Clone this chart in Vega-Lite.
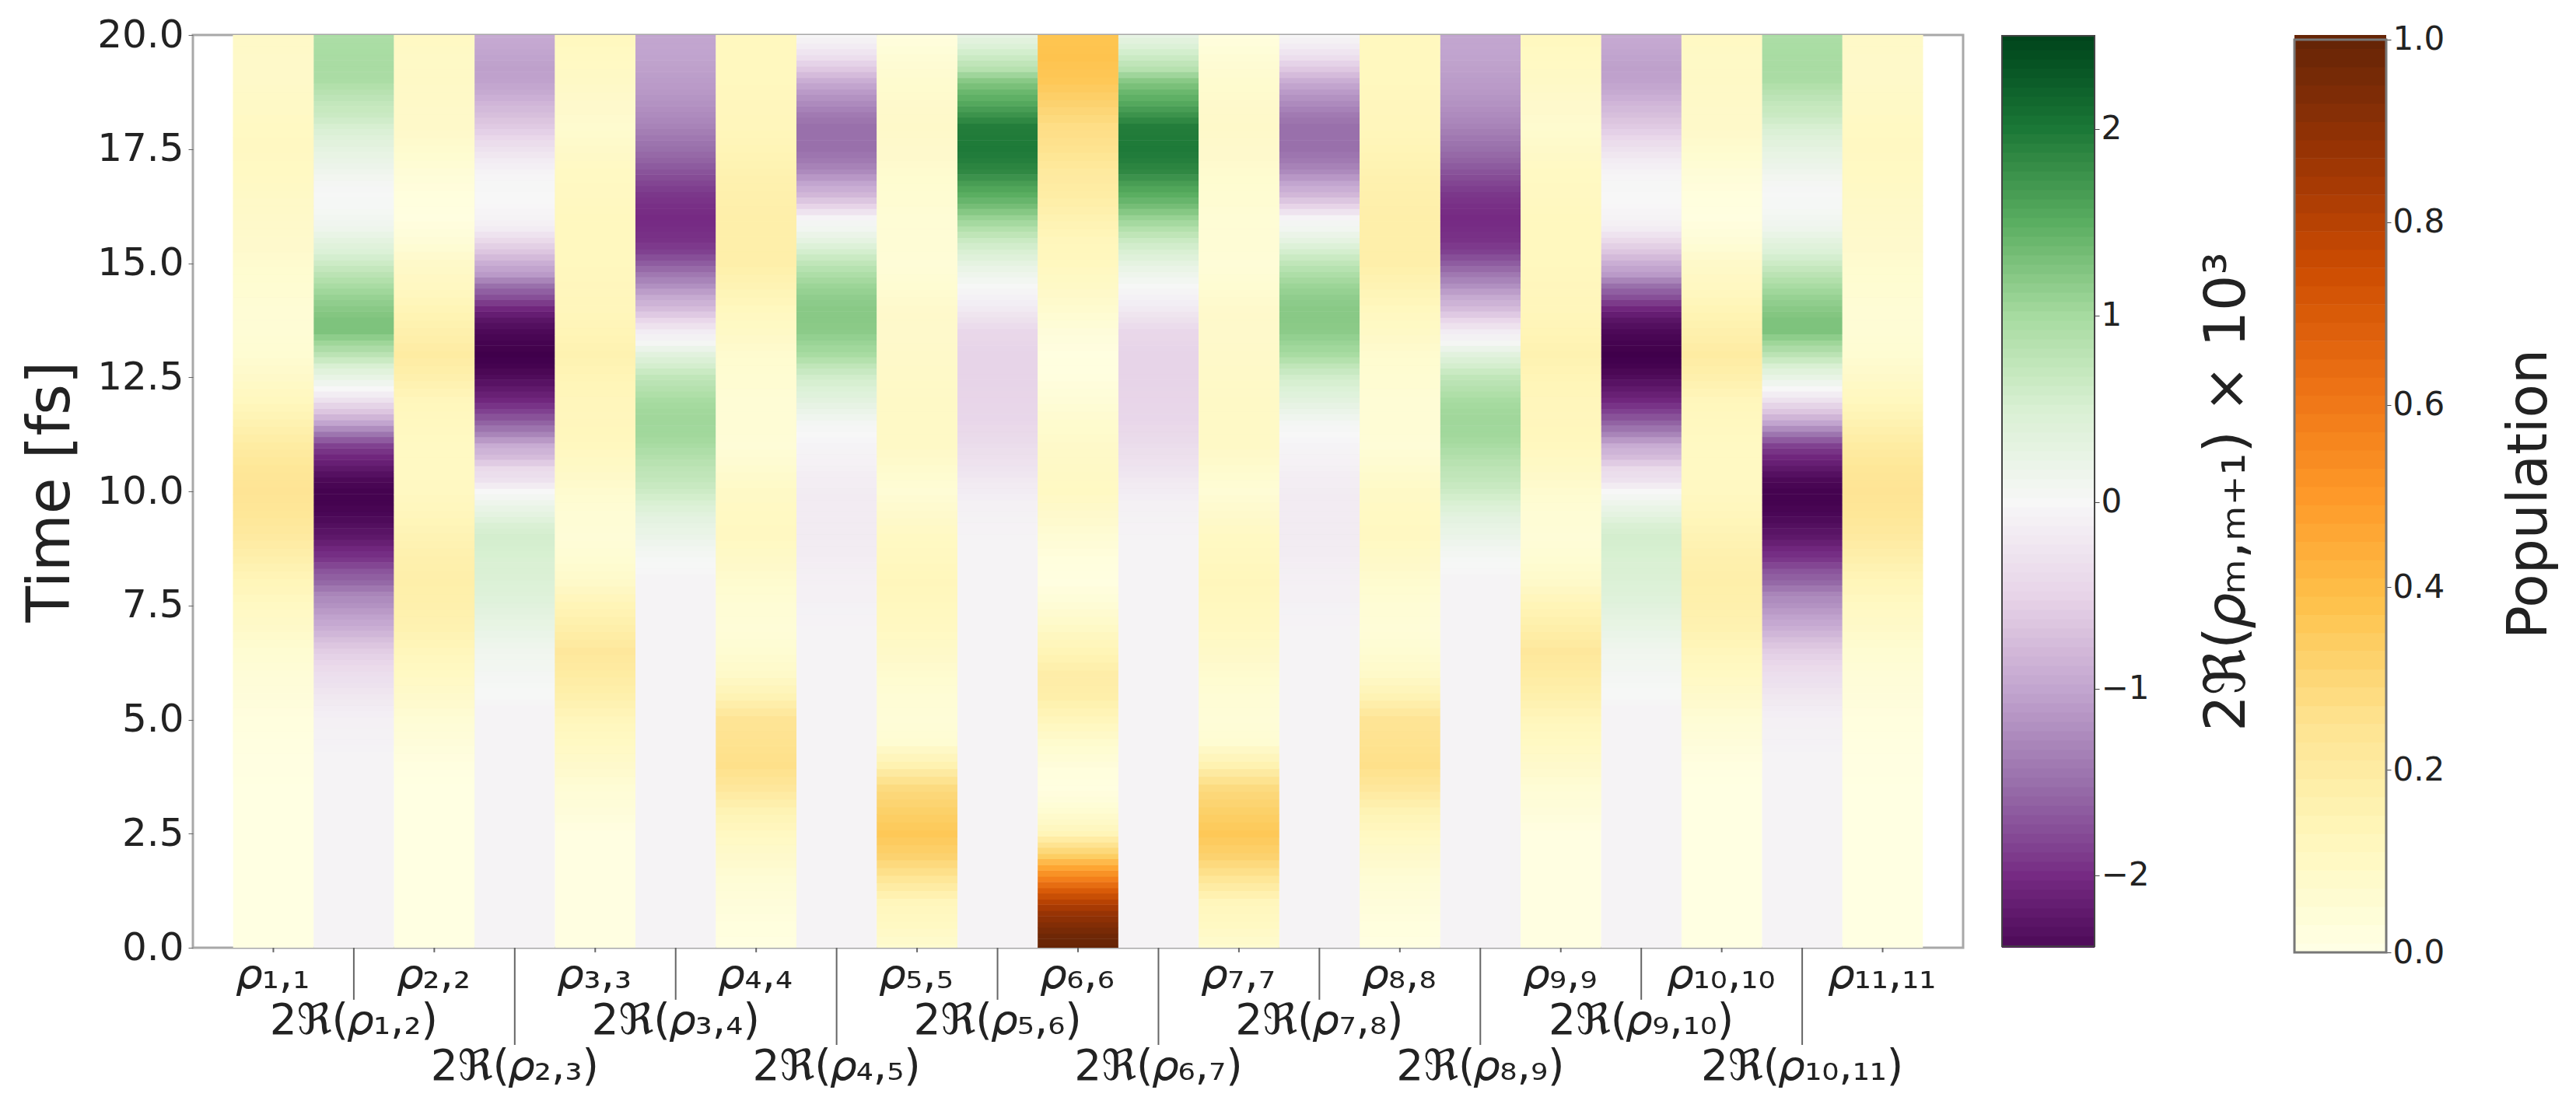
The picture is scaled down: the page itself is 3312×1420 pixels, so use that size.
{"$schema":"https://vega.github.io/schema/vega-lite/v6.json","padding":{"left":26,"top":18,"right":5,"bottom":5},"background":"white","config":{"font":"DejaVu Sans","view":{"stroke":null}},"spacing":47,"resolve":{"scale":{"color":"independent"}},
"datasets":{
"flatp":[{"c":0,"t":0,"u":20,"v":0.01},{"c":2,"t":0,"u":20,"v":0.01},{"c":4,"t":0,"u":20,"v":0.015},{"c":20,"t":0,"u":20,"v":0.01},{"c":18,"t":0,"u":20,"v":0.01},{"c":16,"t":0,"u":20,"v":0.015}],
"flat":[{"c":1,"t":0,"u":20,"v":-0.06},{"c":3,"t":0,"u":20,"v":-0.06},{"c":5,"t":0,"u":20,"v":-0.06},{"c":7,"t":0,"u":20,"v":-0.06},{"c":9,"t":0,"u":20,"v":-0.06},{"c":11,"t":0,"u":20,"v":-0.06},{"c":13,"t":0,"u":20,"v":-0.06},{"c":15,"t":0,"u":20,"v":-0.06},{"c":17,"t":0,"u":20,"v":-0.06},{"c":19,"t":0,"u":20,"v":-0.06}],
"pop":[
{"c":0,"t":4,"v":0.015},{"c":0,"t":4.5,"v":0.02},{"c":0,"t":5,"v":0.025},{"c":0,"t":5.5,"v":0.04},{"c":0,"t":6,"v":0.05},{"c":0,"t":6.5,"v":0.07},{"c":0,"t":7,"v":0.1},{"c":0,"t":7.5,"v":0.125},{"c":0,"t":8,"v":0.155},{"c":0,"t":8.5,"v":0.19},{"c":0,"t":9,"v":0.225},{"c":0,"t":9.5,"v":0.25},{"c":0,"t":10,"v":0.26},{"c":0,"t":10.5,"v":0.25},{"c":0,"t":11,"v":0.22},{"c":0,"t":11.5,"v":0.18},{"c":0,"t":12,"v":0.14},{"c":0,"t":12.5,"v":0.1},{"c":0,"t":13,"v":0.07},{"c":0,"t":13.5,"v":0.06},{"c":0,"t":14,"v":0.06},{"c":0,"t":14.5,"v":0.07},{"c":0,"t":15,"v":0.08},{"c":0,"t":15.5,"v":0.09},{"c":0,"t":16,"v":0.1},{"c":0,"t":16.5,"v":0.11},{"c":0,"t":17,"v":0.12},{"c":0,"t":17.5,"v":0.13},{"c":0,"t":18,"v":0.12},{"c":0,"t":18.5,"v":0.11},{"c":0,"t":19,"v":0.1},{"c":0,"t":19.5,"v":0.1},{"c":0,"t":20,"v":0.11},
{"c":20,"t":4,"v":0.015},{"c":20,"t":4.5,"v":0.02},{"c":20,"t":5,"v":0.025},{"c":20,"t":5.5,"v":0.04},{"c":20,"t":6,"v":0.05},{"c":20,"t":6.5,"v":0.07},{"c":20,"t":7,"v":0.1},{"c":20,"t":7.5,"v":0.125},{"c":20,"t":8,"v":0.155},{"c":20,"t":8.5,"v":0.19},{"c":20,"t":9,"v":0.225},{"c":20,"t":9.5,"v":0.25},{"c":20,"t":10,"v":0.26},{"c":20,"t":10.5,"v":0.25},{"c":20,"t":11,"v":0.22},{"c":20,"t":11.5,"v":0.18},{"c":20,"t":12,"v":0.14},{"c":20,"t":12.5,"v":0.1},{"c":20,"t":13,"v":0.07},{"c":20,"t":13.5,"v":0.06},{"c":20,"t":14,"v":0.06},{"c":20,"t":14.5,"v":0.07},{"c":20,"t":15,"v":0.08},{"c":20,"t":15.5,"v":0.09},{"c":20,"t":16,"v":0.1},{"c":20,"t":16.5,"v":0.11},{"c":20,"t":17,"v":0.12},{"c":20,"t":17.5,"v":0.13},{"c":20,"t":18,"v":0.12},{"c":20,"t":18.5,"v":0.11},{"c":20,"t":19,"v":0.1},{"c":20,"t":19.5,"v":0.1},{"c":20,"t":20,"v":0.11},
{"c":2,"t":4,"v":0.02},{"c":2,"t":4.5,"v":0.04},{"c":2,"t":5,"v":0.06},{"c":2,"t":5.5,"v":0.09},{"c":2,"t":6,"v":0.12},{"c":2,"t":6.5,"v":0.15},{"c":2,"t":7,"v":0.18},{"c":2,"t":7.5,"v":0.19},{"c":2,"t":8,"v":0.2},{"c":2,"t":8.5,"v":0.19},{"c":2,"t":9,"v":0.17},{"c":2,"t":9.5,"v":0.15},{"c":2,"t":10,"v":0.13},{"c":2,"t":10.5,"v":0.125},{"c":2,"t":11,"v":0.12},{"c":2,"t":11.5,"v":0.135},{"c":2,"t":12,"v":0.15},{"c":2,"t":12.5,"v":0.19},{"c":2,"t":13,"v":0.22},{"c":2,"t":13.5,"v":0.19},{"c":2,"t":14,"v":0.16},{"c":2,"t":14.5,"v":0.13},{"c":2,"t":15,"v":0.1},{"c":2,"t":15.5,"v":0.05},{"c":2,"t":16,"v":0.02},{"c":2,"t":16.5,"v":0.03},{"c":2,"t":17,"v":0.05},{"c":2,"t":17.5,"v":0.08},{"c":2,"t":18,"v":0.1},{"c":2,"t":18.5,"v":0.105},{"c":2,"t":19,"v":0.11},{"c":2,"t":19.5,"v":0.115},{"c":2,"t":20,"v":0.12},
{"c":18,"t":4,"v":0.02},{"c":18,"t":4.5,"v":0.04},{"c":18,"t":5,"v":0.06},{"c":18,"t":5.5,"v":0.09},{"c":18,"t":6,"v":0.12},{"c":18,"t":6.5,"v":0.15},{"c":18,"t":7,"v":0.18},{"c":18,"t":7.5,"v":0.19},{"c":18,"t":8,"v":0.2},{"c":18,"t":8.5,"v":0.19},{"c":18,"t":9,"v":0.17},{"c":18,"t":9.5,"v":0.15},{"c":18,"t":10,"v":0.13},{"c":18,"t":10.5,"v":0.125},{"c":18,"t":11,"v":0.12},{"c":18,"t":11.5,"v":0.135},{"c":18,"t":12,"v":0.15},{"c":18,"t":12.5,"v":0.19},{"c":18,"t":13,"v":0.22},{"c":18,"t":13.5,"v":0.19},{"c":18,"t":14,"v":0.16},{"c":18,"t":14.5,"v":0.13},{"c":18,"t":15,"v":0.1},{"c":18,"t":15.5,"v":0.05},{"c":18,"t":16,"v":0.02},{"c":18,"t":16.5,"v":0.03},{"c":18,"t":17,"v":0.05},{"c":18,"t":17.5,"v":0.08},{"c":18,"t":18,"v":0.1},{"c":18,"t":18.5,"v":0.105},{"c":18,"t":19,"v":0.11},{"c":18,"t":19.5,"v":0.115},{"c":18,"t":20,"v":0.12},
{"c":4,"t":3,"v":0.04},{"c":4,"t":3.5,"v":0.06},{"c":4,"t":4,"v":0.09},{"c":4,"t":4.5,"v":0.12},{"c":4,"t":5,"v":0.15},{"c":4,"t":5.5,"v":0.19},{"c":4,"t":6,"v":0.22},{"c":4,"t":6.5,"v":0.24},{"c":4,"t":7,"v":0.2},{"c":4,"t":7.5,"v":0.16},{"c":4,"t":8,"v":0.1},{"c":4,"t":8.5,"v":0.07},{"c":4,"t":9,"v":0.05},{"c":4,"t":9.5,"v":0.06},{"c":4,"t":10,"v":0.08},{"c":4,"t":10.5,"v":0.11},{"c":4,"t":11,"v":0.14},{"c":4,"t":11.5,"v":0.145},{"c":4,"t":12,"v":0.15},{"c":4,"t":12.5,"v":0.165},{"c":4,"t":13,"v":0.18},{"c":4,"t":13.5,"v":0.165},{"c":4,"t":14,"v":0.15},{"c":4,"t":14.5,"v":0.145},{"c":4,"t":15,"v":0.14},{"c":4,"t":15.5,"v":0.14},{"c":4,"t":16,"v":0.14},{"c":4,"t":16.5,"v":0.13},{"c":4,"t":17,"v":0.12},{"c":4,"t":17.5,"v":0.1},{"c":4,"t":18,"v":0.08},{"c":4,"t":18.5,"v":0.09},{"c":4,"t":19,"v":0.11},{"c":4,"t":19.5,"v":0.125},{"c":4,"t":20,"v":0.14},
{"c":16,"t":3,"v":0.04},{"c":16,"t":3.5,"v":0.06},{"c":16,"t":4,"v":0.09},{"c":16,"t":4.5,"v":0.12},{"c":16,"t":5,"v":0.15},{"c":16,"t":5.5,"v":0.19},{"c":16,"t":6,"v":0.22},{"c":16,"t":6.5,"v":0.24},{"c":16,"t":7,"v":0.2},{"c":16,"t":7.5,"v":0.16},{"c":16,"t":8,"v":0.1},{"c":16,"t":8.5,"v":0.07},{"c":16,"t":9,"v":0.05},{"c":16,"t":9.5,"v":0.06},{"c":16,"t":10,"v":0.08},{"c":16,"t":10.5,"v":0.11},{"c":16,"t":11,"v":0.14},{"c":16,"t":11.5,"v":0.145},{"c":16,"t":12,"v":0.15},{"c":16,"t":12.5,"v":0.165},{"c":16,"t":13,"v":0.18},{"c":16,"t":13.5,"v":0.165},{"c":16,"t":14,"v":0.15},{"c":16,"t":14.5,"v":0.145},{"c":16,"t":15,"v":0.14},{"c":16,"t":15.5,"v":0.14},{"c":16,"t":16,"v":0.14},{"c":16,"t":16.5,"v":0.13},{"c":16,"t":17,"v":0.12},{"c":16,"t":17.5,"v":0.1},{"c":16,"t":18,"v":0.08},{"c":16,"t":18.5,"v":0.09},{"c":16,"t":19,"v":0.11},{"c":16,"t":19.5,"v":0.125},{"c":16,"t":20,"v":0.14},
{"c":6,"t":0,"v":0.015},{"c":6,"t":0.5,"v":0.025},{"c":6,"t":1,"v":0.04},{"c":6,"t":1.5,"v":0.06},{"c":6,"t":2,"v":0.09},{"c":6,"t":2.5,"v":0.13},{"c":6,"t":3,"v":0.17},{"c":6,"t":3.5,"v":0.24},{"c":6,"t":4,"v":0.28},{"c":6,"t":4.5,"v":0.27},{"c":6,"t":5,"v":0.26},{"c":6,"t":5.5,"v":0.17},{"c":6,"t":6,"v":0.1},{"c":6,"t":6.5,"v":0.07},{"c":6,"t":7,"v":0.05},{"c":6,"t":7.5,"v":0.06},{"c":6,"t":8,"v":0.08},{"c":6,"t":8.5,"v":0.105},{"c":6,"t":9,"v":0.13},{"c":6,"t":9.5,"v":0.12},{"c":6,"t":10,"v":0.11},{"c":6,"t":10.5,"v":0.08},{"c":6,"t":11,"v":0.05},{"c":6,"t":11.5,"v":0.055},{"c":6,"t":12,"v":0.06},{"c":6,"t":12.5,"v":0.07},{"c":6,"t":13,"v":0.08},{"c":6,"t":13.5,"v":0.11},{"c":6,"t":14,"v":0.14},{"c":6,"t":14.5,"v":0.17},{"c":6,"t":15,"v":0.2},{"c":6,"t":15.5,"v":0.2},{"c":6,"t":16,"v":0.2},{"c":6,"t":16.5,"v":0.19},{"c":6,"t":17,"v":0.18},{"c":6,"t":17.5,"v":0.165},{"c":6,"t":18,"v":0.15},{"c":6,"t":18.5,"v":0.145},{"c":6,"t":19,"v":0.14},{"c":6,"t":19.5,"v":0.14},{"c":6,"t":20,"v":0.14},
{"c":14,"t":0,"v":0.015},{"c":14,"t":0.5,"v":0.025},{"c":14,"t":1,"v":0.04},{"c":14,"t":1.5,"v":0.06},{"c":14,"t":2,"v":0.09},{"c":14,"t":2.5,"v":0.13},{"c":14,"t":3,"v":0.17},{"c":14,"t":3.5,"v":0.24},{"c":14,"t":4,"v":0.28},{"c":14,"t":4.5,"v":0.27},{"c":14,"t":5,"v":0.26},{"c":14,"t":5.5,"v":0.17},{"c":14,"t":6,"v":0.1},{"c":14,"t":6.5,"v":0.07},{"c":14,"t":7,"v":0.05},{"c":14,"t":7.5,"v":0.06},{"c":14,"t":8,"v":0.08},{"c":14,"t":8.5,"v":0.105},{"c":14,"t":9,"v":0.13},{"c":14,"t":9.5,"v":0.12},{"c":14,"t":10,"v":0.11},{"c":14,"t":10.5,"v":0.08},{"c":14,"t":11,"v":0.05},{"c":14,"t":11.5,"v":0.055},{"c":14,"t":12,"v":0.06},{"c":14,"t":12.5,"v":0.07},{"c":14,"t":13,"v":0.08},{"c":14,"t":13.5,"v":0.11},{"c":14,"t":14,"v":0.14},{"c":14,"t":14.5,"v":0.17},{"c":14,"t":15,"v":0.2},{"c":14,"t":15.5,"v":0.2},{"c":14,"t":16,"v":0.2},{"c":14,"t":16.5,"v":0.19},{"c":14,"t":17,"v":0.18},{"c":14,"t":17.5,"v":0.165},{"c":14,"t":18,"v":0.15},{"c":14,"t":18.5,"v":0.145},{"c":14,"t":19,"v":0.14},{"c":14,"t":19.5,"v":0.14},{"c":14,"t":20,"v":0.14},
{"c":8,"t":0,"v":0.08},{"c":8,"t":0.5,"v":0.12},{"c":8,"t":1,"v":0.15},{"c":8,"t":1.5,"v":0.25},{"c":8,"t":2,"v":0.33},{"c":8,"t":2.5,"v":0.37},{"c":8,"t":3,"v":0.34},{"c":8,"t":3.5,"v":0.3},{"c":8,"t":4,"v":0.18},{"c":8,"t":4.5,"v":0.07},{"c":8,"t":5,"v":0.05},{"c":8,"t":5.5,"v":0.06},{"c":8,"t":6,"v":0.08},{"c":8,"t":6.5,"v":0.105},{"c":8,"t":7,"v":0.13},{"c":8,"t":7.5,"v":0.14},{"c":8,"t":8,"v":0.15},{"c":8,"t":8.5,"v":0.135},{"c":8,"t":9,"v":0.12},{"c":8,"t":9.5,"v":0.09},{"c":8,"t":10,"v":0.06},{"c":8,"t":10.5,"v":0.085},{"c":8,"t":11,"v":0.11},{"c":8,"t":11.5,"v":0.11},{"c":8,"t":12,"v":0.11},{"c":8,"t":12.5,"v":0.105},{"c":8,"t":13,"v":0.1},{"c":8,"t":13.5,"v":0.095},{"c":8,"t":14,"v":0.09},{"c":8,"t":14.5,"v":0.07},{"c":8,"t":15,"v":0.05},{"c":8,"t":15.5,"v":0.055},{"c":8,"t":16,"v":0.06},{"c":8,"t":16.5,"v":0.07},{"c":8,"t":17,"v":0.08},{"c":8,"t":17.5,"v":0.09},{"c":8,"t":18,"v":0.1},{"c":8,"t":18.5,"v":0.09},{"c":8,"t":19,"v":0.08},{"c":8,"t":19.5,"v":0.055},{"c":8,"t":20,"v":0.03},
{"c":12,"t":0,"v":0.08},{"c":12,"t":0.5,"v":0.12},{"c":12,"t":1,"v":0.15},{"c":12,"t":1.5,"v":0.25},{"c":12,"t":2,"v":0.33},{"c":12,"t":2.5,"v":0.37},{"c":12,"t":3,"v":0.34},{"c":12,"t":3.5,"v":0.3},{"c":12,"t":4,"v":0.18},{"c":12,"t":4.5,"v":0.07},{"c":12,"t":5,"v":0.05},{"c":12,"t":5.5,"v":0.06},{"c":12,"t":6,"v":0.08},{"c":12,"t":6.5,"v":0.105},{"c":12,"t":7,"v":0.13},{"c":12,"t":7.5,"v":0.14},{"c":12,"t":8,"v":0.15},{"c":12,"t":8.5,"v":0.135},{"c":12,"t":9,"v":0.12},{"c":12,"t":9.5,"v":0.09},{"c":12,"t":10,"v":0.06},{"c":12,"t":10.5,"v":0.085},{"c":12,"t":11,"v":0.11},{"c":12,"t":11.5,"v":0.11},{"c":12,"t":12,"v":0.11},{"c":12,"t":12.5,"v":0.105},{"c":12,"t":13,"v":0.1},{"c":12,"t":13.5,"v":0.095},{"c":12,"t":14,"v":0.09},{"c":12,"t":14.5,"v":0.07},{"c":12,"t":15,"v":0.05},{"c":12,"t":15.5,"v":0.055},{"c":12,"t":16,"v":0.06},{"c":12,"t":16.5,"v":0.07},{"c":12,"t":17,"v":0.08},{"c":12,"t":17.5,"v":0.09},{"c":12,"t":18,"v":0.1},{"c":12,"t":18.5,"v":0.09},{"c":12,"t":19,"v":0.08},{"c":12,"t":19.5,"v":0.055},{"c":12,"t":20,"v":0.03},
{"c":10,"t":4,"v":0.04},{"c":10,"t":4.5,"v":0.085},{"c":10,"t":5,"v":0.15},{"c":10,"t":5.5,"v":0.2},{"c":10,"t":6,"v":0.205},{"c":10,"t":6.5,"v":0.165},{"c":10,"t":7,"v":0.115},{"c":10,"t":7.5,"v":0.06},{"c":10,"t":8,"v":0.02},{"c":10,"t":8.5,"v":0.03},{"c":10,"t":9,"v":0.06},{"c":10,"t":9.5,"v":0.09},{"c":10,"t":10,"v":0.12},{"c":10,"t":10.5,"v":0.115},{"c":10,"t":11,"v":0.1},{"c":10,"t":11.5,"v":0.085},{"c":10,"t":12,"v":0.05},{"c":10,"t":12.5,"v":0.025},{"c":10,"t":13,"v":0.02},{"c":10,"t":13.5,"v":0.04},{"c":10,"t":14,"v":0.08},{"c":10,"t":14.5,"v":0.11},{"c":10,"t":15,"v":0.14},{"c":10,"t":15.5,"v":0.15},{"c":10,"t":16,"v":0.18},{"c":10,"t":16.5,"v":0.21},{"c":10,"t":17,"v":0.23},{"c":10,"t":17.5,"v":0.27},{"c":10,"t":18,"v":0.29},{"c":10,"t":18.5,"v":0.33},{"c":10,"t":19,"v":0.37},{"c":10,"t":19.5,"v":0.385},{"c":10,"t":20,"v":0.38}],
"fine":[{"c":10,"t":0,"v":1},{"c":10,"t":0.25,"v":0.98},{"c":10,"t":0.5,"v":0.93},{"c":10,"t":0.75,"v":0.88},{"c":10,"t":1,"v":0.8},{"c":10,"t":1.25,"v":0.7},{"c":10,"t":1.5,"v":0.58},{"c":10,"t":1.75,"v":0.47},{"c":10,"t":2,"v":0.35},{"c":10,"t":2.25,"v":0.27},{"c":10,"t":2.5,"v":0.16},{"c":10,"t":2.75,"v":0.11},{"c":10,"t":3,"v":0.07},{"c":10,"t":3.25,"v":0.04},{"c":10,"t":3.5,"v":0.02},{"c":10,"t":3.75,"v":0.03}],
"coh":[
{"c":1,"t":4.5,"v":-0.08},{"c":1,"t":4.75,"v":-0.09},{"c":1,"t":5,"v":-0.1},{"c":1,"t":5.25,"v":-0.15},{"c":1,"t":5.5,"v":-0.22},{"c":1,"t":5.75,"v":-0.3},{"c":1,"t":6,"v":-0.35},{"c":1,"t":6.25,"v":-0.45},{"c":1,"t":6.5,"v":-0.57},{"c":1,"t":6.75,"v":-0.72},{"c":1,"t":7,"v":-0.9},{"c":1,"t":7.25,"v":-1.03},{"c":1,"t":7.5,"v":-1.18},{"c":1,"t":7.75,"v":-1.3},{"c":1,"t":8,"v":-1.55},{"c":1,"t":8.25,"v":-1.7},{"c":1,"t":8.5,"v":-1.92},{"c":1,"t":8.75,"v":-2.05},{"c":1,"t":9,"v":-2.22},{"c":1,"t":9.25,"v":-2.32},{"c":1,"t":9.5,"v":-2.4},{"c":1,"t":9.75,"v":-2.45},{"c":1,"t":10,"v":-2.45},{"c":1,"t":10.25,"v":-2.38},{"c":1,"t":10.5,"v":-2.22},{"c":1,"t":10.75,"v":-2.05},{"c":1,"t":11,"v":-1.85},{"c":1,"t":11.25,"v":-1.45},{"c":1,"t":11.5,"v":-1},{"c":1,"t":11.75,"v":-0.65},{"c":1,"t":12,"v":-0.3},{"c":1,"t":12.25,"v":0},{"c":1,"t":12.5,"v":0.25},{"c":1,"t":12.75,"v":0.5},{"c":1,"t":13,"v":0.8},{"c":1,"t":13.25,"v":1.05},{"c":1,"t":13.5,"v":1.27},{"c":1,"t":13.75,"v":1.27},{"c":1,"t":14,"v":1.2},{"c":1,"t":14.25,"v":1.1},{"c":1,"t":14.5,"v":0.97},{"c":1,"t":14.75,"v":0.8},{"c":1,"t":15,"v":0.62},{"c":1,"t":15.25,"v":0.45},{"c":1,"t":15.5,"v":0.32},{"c":1,"t":15.75,"v":0.15},{"c":1,"t":16,"v":0.08},{"c":1,"t":16.25,"v":0.03},{"c":1,"t":16.5,"v":0.02},{"c":1,"t":16.75,"v":0.05},{"c":1,"t":17,"v":0.14},{"c":1,"t":17.25,"v":0.22},{"c":1,"t":17.5,"v":0.3},{"c":1,"t":17.75,"v":0.4},{"c":1,"t":18,"v":0.52},{"c":1,"t":18.25,"v":0.65},{"c":1,"t":18.5,"v":0.72},{"c":1,"t":18.75,"v":0.83},{"c":1,"t":19,"v":0.95},{"c":1,"t":19.25,"v":0.97},{"c":1,"t":19.5,"v":0.97},{"c":1,"t":19.75,"v":0.96},{"c":1,"t":20,"v":0.95},
{"c":19,"t":4.5,"v":-0.08},{"c":19,"t":4.75,"v":-0.09},{"c":19,"t":5,"v":-0.1},{"c":19,"t":5.25,"v":-0.15},{"c":19,"t":5.5,"v":-0.22},{"c":19,"t":5.75,"v":-0.3},{"c":19,"t":6,"v":-0.35},{"c":19,"t":6.25,"v":-0.45},{"c":19,"t":6.5,"v":-0.57},{"c":19,"t":6.75,"v":-0.72},{"c":19,"t":7,"v":-0.9},{"c":19,"t":7.25,"v":-1.03},{"c":19,"t":7.5,"v":-1.18},{"c":19,"t":7.75,"v":-1.3},{"c":19,"t":8,"v":-1.55},{"c":19,"t":8.25,"v":-1.7},{"c":19,"t":8.5,"v":-1.92},{"c":19,"t":8.75,"v":-2.05},{"c":19,"t":9,"v":-2.22},{"c":19,"t":9.25,"v":-2.32},{"c":19,"t":9.5,"v":-2.4},{"c":19,"t":9.75,"v":-2.45},{"c":19,"t":10,"v":-2.45},{"c":19,"t":10.25,"v":-2.38},{"c":19,"t":10.5,"v":-2.22},{"c":19,"t":10.75,"v":-2.05},{"c":19,"t":11,"v":-1.85},{"c":19,"t":11.25,"v":-1.45},{"c":19,"t":11.5,"v":-1},{"c":19,"t":11.75,"v":-0.65},{"c":19,"t":12,"v":-0.3},{"c":19,"t":12.25,"v":0},{"c":19,"t":12.5,"v":0.25},{"c":19,"t":12.75,"v":0.5},{"c":19,"t":13,"v":0.8},{"c":19,"t":13.25,"v":1.05},{"c":19,"t":13.5,"v":1.27},{"c":19,"t":13.75,"v":1.27},{"c":19,"t":14,"v":1.2},{"c":19,"t":14.25,"v":1.1},{"c":19,"t":14.5,"v":0.97},{"c":19,"t":14.75,"v":0.8},{"c":19,"t":15,"v":0.62},{"c":19,"t":15.25,"v":0.45},{"c":19,"t":15.5,"v":0.32},{"c":19,"t":15.75,"v":0.15},{"c":19,"t":16,"v":0.08},{"c":19,"t":16.25,"v":0.03},{"c":19,"t":16.5,"v":0.02},{"c":19,"t":16.75,"v":0.05},{"c":19,"t":17,"v":0.14},{"c":19,"t":17.25,"v":0.22},{"c":19,"t":17.5,"v":0.3},{"c":19,"t":17.75,"v":0.4},{"c":19,"t":18,"v":0.52},{"c":19,"t":18.25,"v":0.65},{"c":19,"t":18.5,"v":0.72},{"c":19,"t":18.75,"v":0.83},{"c":19,"t":19,"v":0.95},{"c":19,"t":19.25,"v":0.97},{"c":19,"t":19.5,"v":0.97},{"c":19,"t":19.75,"v":0.96},{"c":19,"t":20,"v":0.95},
{"c":3,"t":5.5,"v":0.02},{"c":3,"t":5.75,"v":0.03},{"c":3,"t":6,"v":0.06},{"c":3,"t":6.25,"v":0.09},{"c":3,"t":6.5,"v":0.12},{"c":3,"t":6.75,"v":0.18},{"c":3,"t":7,"v":0.25},{"c":3,"t":7.25,"v":0.3},{"c":3,"t":7.5,"v":0.36},{"c":3,"t":7.75,"v":0.42},{"c":3,"t":8,"v":0.45},{"c":3,"t":8.25,"v":0.48},{"c":3,"t":8.5,"v":0.5},{"c":3,"t":8.75,"v":0.53},{"c":3,"t":9,"v":0.55},{"c":3,"t":9.25,"v":0.48},{"c":3,"t":9.5,"v":0.3},{"c":3,"t":9.75,"v":0.15},{"c":3,"t":10,"v":0},{"c":3,"t":10.25,"v":-0.3},{"c":3,"t":10.5,"v":-0.42},{"c":3,"t":10.75,"v":-0.75},{"c":3,"t":11,"v":-0.92},{"c":3,"t":11.25,"v":-1.3},{"c":3,"t":11.5,"v":-1.6},{"c":3,"t":11.75,"v":-1.85},{"c":3,"t":12,"v":-2.05},{"c":3,"t":12.25,"v":-2.2},{"c":3,"t":12.5,"v":-2.35},{"c":3,"t":12.75,"v":-2.45},{"c":3,"t":13,"v":-2.5},{"c":3,"t":13.25,"v":-2.45},{"c":3,"t":13.5,"v":-2.38},{"c":3,"t":13.75,"v":-2.25},{"c":3,"t":14,"v":-2.05},{"c":3,"t":14.25,"v":-1.75},{"c":3,"t":14.5,"v":-1.5},{"c":3,"t":14.75,"v":-1.1},{"c":3,"t":15,"v":-0.9},{"c":3,"t":15.25,"v":-0.65},{"c":3,"t":15.5,"v":-0.42},{"c":3,"t":15.75,"v":-0.15},{"c":3,"t":16,"v":-0.06},{"c":3,"t":16.25,"v":-0.01},{"c":3,"t":16.5,"v":0},{"c":3,"t":16.75,"v":-0.02},{"c":3,"t":17,"v":-0.06},{"c":3,"t":17.25,"v":-0.15},{"c":3,"t":17.5,"v":-0.3},{"c":3,"t":17.75,"v":-0.45},{"c":3,"t":18,"v":-0.6},{"c":3,"t":18.25,"v":-0.72},{"c":3,"t":18.5,"v":-0.82},{"c":3,"t":18.75,"v":-0.95},{"c":3,"t":19,"v":-1.03},{"c":3,"t":19.25,"v":-1.05},{"c":3,"t":19.5,"v":-1.02},{"c":3,"t":19.75,"v":-0.98},{"c":3,"t":20,"v":-0.95},
{"c":17,"t":5.5,"v":0.02},{"c":17,"t":5.75,"v":0.03},{"c":17,"t":6,"v":0.06},{"c":17,"t":6.25,"v":0.09},{"c":17,"t":6.5,"v":0.12},{"c":17,"t":6.75,"v":0.18},{"c":17,"t":7,"v":0.25},{"c":17,"t":7.25,"v":0.3},{"c":17,"t":7.5,"v":0.36},{"c":17,"t":7.75,"v":0.42},{"c":17,"t":8,"v":0.45},{"c":17,"t":8.25,"v":0.48},{"c":17,"t":8.5,"v":0.5},{"c":17,"t":8.75,"v":0.53},{"c":17,"t":9,"v":0.55},{"c":17,"t":9.25,"v":0.48},{"c":17,"t":9.5,"v":0.3},{"c":17,"t":9.75,"v":0.15},{"c":17,"t":10,"v":0},{"c":17,"t":10.25,"v":-0.3},{"c":17,"t":10.5,"v":-0.42},{"c":17,"t":10.75,"v":-0.75},{"c":17,"t":11,"v":-0.92},{"c":17,"t":11.25,"v":-1.3},{"c":17,"t":11.5,"v":-1.6},{"c":17,"t":11.75,"v":-1.85},{"c":17,"t":12,"v":-2.05},{"c":17,"t":12.25,"v":-2.2},{"c":17,"t":12.5,"v":-2.35},{"c":17,"t":12.75,"v":-2.45},{"c":17,"t":13,"v":-2.5},{"c":17,"t":13.25,"v":-2.45},{"c":17,"t":13.5,"v":-2.38},{"c":17,"t":13.75,"v":-2.25},{"c":17,"t":14,"v":-2.05},{"c":17,"t":14.25,"v":-1.75},{"c":17,"t":14.5,"v":-1.5},{"c":17,"t":14.75,"v":-1.1},{"c":17,"t":15,"v":-0.9},{"c":17,"t":15.25,"v":-0.65},{"c":17,"t":15.5,"v":-0.42},{"c":17,"t":15.75,"v":-0.15},{"c":17,"t":16,"v":-0.06},{"c":17,"t":16.25,"v":-0.01},{"c":17,"t":16.5,"v":0},{"c":17,"t":16.75,"v":-0.02},{"c":17,"t":17,"v":-0.06},{"c":17,"t":17.25,"v":-0.15},{"c":17,"t":17.5,"v":-0.3},{"c":17,"t":17.75,"v":-0.45},{"c":17,"t":18,"v":-0.6},{"c":17,"t":18.25,"v":-0.72},{"c":17,"t":18.5,"v":-0.82},{"c":17,"t":18.75,"v":-0.95},{"c":17,"t":19,"v":-1.03},{"c":17,"t":19.25,"v":-1.05},{"c":17,"t":19.5,"v":-1.02},{"c":17,"t":19.75,"v":-0.98},{"c":17,"t":20,"v":-0.95},
{"c":5,"t":8.25,"v":-0.02},{"c":5,"t":8.5,"v":0.03},{"c":5,"t":8.75,"v":0.1},{"c":5,"t":9,"v":0.2},{"c":5,"t":9.25,"v":0.27},{"c":5,"t":9.5,"v":0.36},{"c":5,"t":9.75,"v":0.5},{"c":5,"t":10,"v":0.62},{"c":5,"t":10.25,"v":0.72},{"c":5,"t":10.5,"v":0.78},{"c":5,"t":10.75,"v":0.88},{"c":5,"t":11,"v":0.97},{"c":5,"t":11.25,"v":1.03},{"c":5,"t":11.5,"v":1.04},{"c":5,"t":11.75,"v":1.03},{"c":5,"t":12,"v":0.98},{"c":5,"t":12.25,"v":0.86},{"c":5,"t":12.5,"v":0.75},{"c":5,"t":12.75,"v":0.55},{"c":5,"t":13,"v":0.35},{"c":5,"t":13.25,"v":0.05},{"c":5,"t":13.5,"v":-0.15},{"c":5,"t":13.75,"v":-0.45},{"c":5,"t":14,"v":-0.75},{"c":5,"t":14.25,"v":-0.95},{"c":5,"t":14.5,"v":-1.2},{"c":5,"t":14.75,"v":-1.42},{"c":5,"t":15,"v":-1.65},{"c":5,"t":15.25,"v":-1.85},{"c":5,"t":15.5,"v":-1.95},{"c":5,"t":15.75,"v":-1.98},{"c":5,"t":16,"v":-2},{"c":5,"t":16.25,"v":-1.97},{"c":5,"t":16.5,"v":-1.92},{"c":5,"t":16.75,"v":-1.82},{"c":5,"t":17,"v":-1.72},{"c":5,"t":17.25,"v":-1.6},{"c":5,"t":17.5,"v":-1.5},{"c":5,"t":17.75,"v":-1.42},{"c":5,"t":18,"v":-1.32},{"c":5,"t":18.25,"v":-1.24},{"c":5,"t":18.5,"v":-1.18},{"c":5,"t":18.75,"v":-1.12},{"c":5,"t":19,"v":-1.08},{"c":5,"t":19.25,"v":-1.05},{"c":5,"t":19.5,"v":-1.02},{"c":5,"t":19.75,"v":-1},{"c":5,"t":20,"v":-1},
{"c":15,"t":8.25,"v":-0.02},{"c":15,"t":8.5,"v":0.03},{"c":15,"t":8.75,"v":0.1},{"c":15,"t":9,"v":0.2},{"c":15,"t":9.25,"v":0.27},{"c":15,"t":9.5,"v":0.36},{"c":15,"t":9.75,"v":0.5},{"c":15,"t":10,"v":0.62},{"c":15,"t":10.25,"v":0.72},{"c":15,"t":10.5,"v":0.78},{"c":15,"t":10.75,"v":0.88},{"c":15,"t":11,"v":0.97},{"c":15,"t":11.25,"v":1.03},{"c":15,"t":11.5,"v":1.04},{"c":15,"t":11.75,"v":1.03},{"c":15,"t":12,"v":0.98},{"c":15,"t":12.25,"v":0.86},{"c":15,"t":12.5,"v":0.75},{"c":15,"t":12.75,"v":0.55},{"c":15,"t":13,"v":0.35},{"c":15,"t":13.25,"v":0.05},{"c":15,"t":13.5,"v":-0.15},{"c":15,"t":13.75,"v":-0.45},{"c":15,"t":14,"v":-0.75},{"c":15,"t":14.25,"v":-0.95},{"c":15,"t":14.5,"v":-1.2},{"c":15,"t":14.75,"v":-1.42},{"c":15,"t":15,"v":-1.65},{"c":15,"t":15.25,"v":-1.85},{"c":15,"t":15.5,"v":-1.95},{"c":15,"t":15.75,"v":-1.98},{"c":15,"t":16,"v":-2},{"c":15,"t":16.25,"v":-1.97},{"c":15,"t":16.5,"v":-1.92},{"c":15,"t":16.75,"v":-1.82},{"c":15,"t":17,"v":-1.72},{"c":15,"t":17.25,"v":-1.6},{"c":15,"t":17.5,"v":-1.5},{"c":15,"t":17.75,"v":-1.42},{"c":15,"t":18,"v":-1.32},{"c":15,"t":18.25,"v":-1.24},{"c":15,"t":18.5,"v":-1.18},{"c":15,"t":18.75,"v":-1.12},{"c":15,"t":19,"v":-1.08},{"c":15,"t":19.25,"v":-1.05},{"c":15,"t":19.5,"v":-1.02},{"c":15,"t":19.75,"v":-1},{"c":15,"t":20,"v":-1},
{"c":7,"t":7.25,"v":-0.07},{"c":7,"t":7.5,"v":-0.08},{"c":7,"t":7.75,"v":-0.1},{"c":7,"t":8,"v":-0.11},{"c":7,"t":8.25,"v":-0.12},{"c":7,"t":8.5,"v":-0.14},{"c":7,"t":8.75,"v":-0.16},{"c":7,"t":9,"v":-0.17},{"c":7,"t":9.25,"v":-0.17},{"c":7,"t":9.5,"v":-0.17},{"c":7,"t":9.75,"v":-0.17},{"c":7,"t":10,"v":-0.16},{"c":7,"t":10.25,"v":-0.14},{"c":7,"t":10.5,"v":-0.1},{"c":7,"t":10.75,"v":-0.07},{"c":7,"t":11,"v":-0.05},{"c":7,"t":11.25,"v":0},{"c":7,"t":11.5,"v":0.06},{"c":7,"t":11.75,"v":0.2},{"c":7,"t":12,"v":0.33},{"c":7,"t":12.25,"v":0.45},{"c":7,"t":12.5,"v":0.58},{"c":7,"t":12.75,"v":0.75},{"c":7,"t":13,"v":0.98},{"c":7,"t":13.25,"v":1.08},{"c":7,"t":13.5,"v":1.18},{"c":7,"t":13.75,"v":1.2},{"c":7,"t":14,"v":1.2},{"c":7,"t":14.25,"v":1.15},{"c":7,"t":14.5,"v":1.07},{"c":7,"t":14.75,"v":0.93},{"c":7,"t":15,"v":0.75},{"c":7,"t":15.25,"v":0.55},{"c":7,"t":15.5,"v":0.3},{"c":7,"t":15.75,"v":0.1},{"c":7,"t":16,"v":-0.05},{"c":7,"t":16.25,"v":-0.5},{"c":7,"t":16.5,"v":-0.8},{"c":7,"t":16.75,"v":-1},{"c":7,"t":17,"v":-1.25},{"c":7,"t":17.25,"v":-1.4},{"c":7,"t":17.5,"v":-1.5},{"c":7,"t":17.75,"v":-1.5},{"c":7,"t":18,"v":-1.5},{"c":7,"t":18.25,"v":-1.4},{"c":7,"t":18.5,"v":-1.25},{"c":7,"t":18.75,"v":-1.1},{"c":7,"t":19,"v":-0.9},{"c":7,"t":19.25,"v":-0.62},{"c":7,"t":19.5,"v":-0.35},{"c":7,"t":19.75,"v":-0.15},{"c":7,"t":20,"v":-0.03},
{"c":13,"t":7.25,"v":-0.07},{"c":13,"t":7.5,"v":-0.08},{"c":13,"t":7.75,"v":-0.1},{"c":13,"t":8,"v":-0.11},{"c":13,"t":8.25,"v":-0.12},{"c":13,"t":8.5,"v":-0.14},{"c":13,"t":8.75,"v":-0.16},{"c":13,"t":9,"v":-0.17},{"c":13,"t":9.25,"v":-0.17},{"c":13,"t":9.5,"v":-0.17},{"c":13,"t":9.75,"v":-0.17},{"c":13,"t":10,"v":-0.16},{"c":13,"t":10.25,"v":-0.14},{"c":13,"t":10.5,"v":-0.1},{"c":13,"t":10.75,"v":-0.07},{"c":13,"t":11,"v":-0.05},{"c":13,"t":11.25,"v":0},{"c":13,"t":11.5,"v":0.06},{"c":13,"t":11.75,"v":0.2},{"c":13,"t":12,"v":0.33},{"c":13,"t":12.25,"v":0.45},{"c":13,"t":12.5,"v":0.58},{"c":13,"t":12.75,"v":0.75},{"c":13,"t":13,"v":0.98},{"c":13,"t":13.25,"v":1.08},{"c":13,"t":13.5,"v":1.18},{"c":13,"t":13.75,"v":1.2},{"c":13,"t":14,"v":1.2},{"c":13,"t":14.25,"v":1.15},{"c":13,"t":14.5,"v":1.07},{"c":13,"t":14.75,"v":0.93},{"c":13,"t":15,"v":0.75},{"c":13,"t":15.25,"v":0.55},{"c":13,"t":15.5,"v":0.3},{"c":13,"t":15.75,"v":0.1},{"c":13,"t":16,"v":-0.05},{"c":13,"t":16.25,"v":-0.5},{"c":13,"t":16.5,"v":-0.8},{"c":13,"t":16.75,"v":-1},{"c":13,"t":17,"v":-1.25},{"c":13,"t":17.25,"v":-1.4},{"c":13,"t":17.5,"v":-1.5},{"c":13,"t":17.75,"v":-1.5},{"c":13,"t":18,"v":-1.5},{"c":13,"t":18.25,"v":-1.4},{"c":13,"t":18.5,"v":-1.25},{"c":13,"t":18.75,"v":-1.1},{"c":13,"t":19,"v":-0.9},{"c":13,"t":19.25,"v":-0.62},{"c":13,"t":19.5,"v":-0.35},{"c":13,"t":19.75,"v":-0.15},{"c":13,"t":20,"v":-0.03},
{"c":9,"t":9.25,"v":-0.07},{"c":9,"t":9.5,"v":-0.09},{"c":9,"t":9.75,"v":-0.1},{"c":9,"t":10,"v":-0.15},{"c":9,"t":10.25,"v":-0.2},{"c":9,"t":10.5,"v":-0.27},{"c":9,"t":10.75,"v":-0.33},{"c":9,"t":11,"v":-0.37},{"c":9,"t":11.25,"v":-0.42},{"c":9,"t":11.5,"v":-0.45},{"c":9,"t":11.75,"v":-0.47},{"c":9,"t":12,"v":-0.48},{"c":9,"t":12.25,"v":-0.49},{"c":9,"t":12.5,"v":-0.5},{"c":9,"t":12.75,"v":-0.5},{"c":9,"t":13,"v":-0.5},{"c":9,"t":13.25,"v":-0.47},{"c":9,"t":13.5,"v":-0.45},{"c":9,"t":13.75,"v":-0.32},{"c":9,"t":14,"v":-0.18},{"c":9,"t":14.25,"v":-0.08},{"c":9,"t":14.5,"v":0.02},{"c":9,"t":14.75,"v":0.15},{"c":9,"t":15,"v":0.3},{"c":9,"t":15.25,"v":0.48},{"c":9,"t":15.5,"v":0.65},{"c":9,"t":15.75,"v":0.88},{"c":9,"t":16,"v":1.1},{"c":9,"t":16.25,"v":1.33},{"c":9,"t":16.5,"v":1.5},{"c":9,"t":16.75,"v":1.65},{"c":9,"t":17,"v":1.85},{"c":9,"t":17.25,"v":1.93},{"c":9,"t":17.5,"v":1.98},{"c":9,"t":17.75,"v":1.97},{"c":9,"t":18,"v":1.95},{"c":9,"t":18.25,"v":1.75},{"c":9,"t":18.5,"v":1.55},{"c":9,"t":18.75,"v":1.4},{"c":9,"t":19,"v":1.2},{"c":9,"t":19.25,"v":0.85},{"c":9,"t":19.5,"v":0.65},{"c":9,"t":19.75,"v":0.45},{"c":9,"t":20,"v":0.27},
{"c":11,"t":9.25,"v":-0.07},{"c":11,"t":9.5,"v":-0.09},{"c":11,"t":9.75,"v":-0.1},{"c":11,"t":10,"v":-0.15},{"c":11,"t":10.25,"v":-0.2},{"c":11,"t":10.5,"v":-0.27},{"c":11,"t":10.75,"v":-0.33},{"c":11,"t":11,"v":-0.37},{"c":11,"t":11.25,"v":-0.42},{"c":11,"t":11.5,"v":-0.45},{"c":11,"t":11.75,"v":-0.47},{"c":11,"t":12,"v":-0.48},{"c":11,"t":12.25,"v":-0.49},{"c":11,"t":12.5,"v":-0.5},{"c":11,"t":12.75,"v":-0.5},{"c":11,"t":13,"v":-0.5},{"c":11,"t":13.25,"v":-0.47},{"c":11,"t":13.5,"v":-0.45},{"c":11,"t":13.75,"v":-0.32},{"c":11,"t":14,"v":-0.18},{"c":11,"t":14.25,"v":-0.08},{"c":11,"t":14.5,"v":0.02},{"c":11,"t":14.75,"v":0.15},{"c":11,"t":15,"v":0.3},{"c":11,"t":15.25,"v":0.48},{"c":11,"t":15.5,"v":0.65},{"c":11,"t":15.75,"v":0.88},{"c":11,"t":16,"v":1.1},{"c":11,"t":16.25,"v":1.33},{"c":11,"t":16.5,"v":1.5},{"c":11,"t":16.75,"v":1.65},{"c":11,"t":17,"v":1.85},{"c":11,"t":17.25,"v":1.93},{"c":11,"t":17.5,"v":1.98},{"c":11,"t":17.75,"v":1.97},{"c":11,"t":18,"v":1.95},{"c":11,"t":18.25,"v":1.75},{"c":11,"t":18.5,"v":1.55},{"c":11,"t":18.75,"v":1.4},{"c":11,"t":19,"v":1.2},{"c":11,"t":19.25,"v":0.85},{"c":11,"t":19.5,"v":0.65},{"c":11,"t":19.75,"v":0.45},{"c":11,"t":20,"v":0.27}],
"tick":[{"c":0,"k":0},{"c":1,"k":1},{"c":2,"k":0},{"c":3,"k":2},{"c":4,"k":0},{"c":5,"k":1},{"c":6,"k":0},{"c":7,"k":2},{"c":8,"k":0},{"c":9,"k":1},{"c":10,"k":0},{"c":11,"k":2},{"c":12,"k":0},{"c":13,"k":1},{"c":14,"k":0},{"c":15,"k":2},{"c":16,"k":0},{"c":17,"k":1},{"c":18,"k":0},{"c":19,"k":2},{"c":20,"k":0}],
"lab":[{"c":0,"k":0,"s":"𝜌₁,₁"},{"c":2,"k":0,"s":"𝜌₂,₂"},{"c":4,"k":0,"s":"𝜌₃,₃"},{"c":6,"k":0,"s":"𝜌₄,₄"},{"c":8,"k":0,"s":"𝜌₅,₅"},{"c":10,"k":0,"s":"𝜌₆,₆"},{"c":12,"k":0,"s":"𝜌₇,₇"},{"c":14,"k":0,"s":"𝜌₈,₈"},{"c":16,"k":0,"s":"𝜌₉,₉"},{"c":18,"k":0,"s":"𝜌₁₀,₁₀"},{"c":20,"k":0,"s":"𝜌₁₁,₁₁"},{"c":1,"k":1,"s":"2ℜ(𝜌₁,₂)"},{"c":5,"k":1,"s":"2ℜ(𝜌₃,₄)"},{"c":9,"k":1,"s":"2ℜ(𝜌₅,₆)"},{"c":13,"k":1,"s":"2ℜ(𝜌₇,₈)"},{"c":17,"k":1,"s":"2ℜ(𝜌₉,₁₀)"},{"c":3,"k":2,"s":"2ℜ(𝜌₂,₃)"},{"c":7,"k":2,"s":"2ℜ(𝜌₄,₅)"},{"c":11,"k":2,"s":"2ℜ(𝜌₆,₇)"},{"c":15,"k":2,"s":"2ℜ(𝜌₈,₉)"},{"c":19,"k":2,"s":"2ℜ(𝜌₁₀,₁₁)"}],
"bar1":[{"v":-2.4},{"v":-2.35},{"v":-2.3},{"v":-2.25},{"v":-2.2},{"v":-2.15},{"v":-2.1},{"v":-2.05},{"v":-2},{"v":-1.95},{"v":-1.9},{"v":-1.85},{"v":-1.8},{"v":-1.75},{"v":-1.7},{"v":-1.65},{"v":-1.6},{"v":-1.55},{"v":-1.5},{"v":-1.45},{"v":-1.4},{"v":-1.35},{"v":-1.3},{"v":-1.25},{"v":-1.2},{"v":-1.15},{"v":-1.1},{"v":-1.05},{"v":-1},{"v":-0.95},{"v":-0.9},{"v":-0.85},{"v":-0.8},{"v":-0.75},{"v":-0.7},{"v":-0.65},{"v":-0.6},{"v":-0.55},{"v":-0.5},{"v":-0.45},{"v":-0.4},{"v":-0.35},{"v":-0.3},{"v":-0.25},{"v":-0.2},{"v":-0.15},{"v":-0.1},{"v":-0.05},{"v":0},{"v":0.05},{"v":0.1},{"v":0.15},{"v":0.2},{"v":0.25},{"v":0.3},{"v":0.35},{"v":0.4},{"v":0.45},{"v":0.5},{"v":0.55},{"v":0.6},{"v":0.65},{"v":0.7},{"v":0.75},{"v":0.8},{"v":0.85},{"v":0.9},{"v":0.95},{"v":1},{"v":1.05},{"v":1.1},{"v":1.15},{"v":1.2},{"v":1.25},{"v":1.3},{"v":1.35},{"v":1.4},{"v":1.45},{"v":1.5},{"v":1.55},{"v":1.6},{"v":1.65},{"v":1.7},{"v":1.75},{"v":1.8},{"v":1.85},{"v":1.9},{"v":1.95},{"v":2},{"v":2.05},{"v":2.1},{"v":2.15},{"v":2.2},{"v":2.25},{"v":2.3},{"v":2.35},{"v":2.4},{"v":2.45},{"v":2.5}],
"bar2":[{"v":0},{"v":0.02},{"v":0.04},{"v":0.06},{"v":0.08},{"v":0.1},{"v":0.12},{"v":0.14},{"v":0.16},{"v":0.18},{"v":0.2},{"v":0.22},{"v":0.24},{"v":0.26},{"v":0.28},{"v":0.3},{"v":0.32},{"v":0.34},{"v":0.36},{"v":0.38},{"v":0.4},{"v":0.42},{"v":0.44},{"v":0.46},{"v":0.48},{"v":0.5},{"v":0.52},{"v":0.54},{"v":0.56},{"v":0.58},{"v":0.6},{"v":0.62},{"v":0.64},{"v":0.66},{"v":0.68},{"v":0.7},{"v":0.72},{"v":0.74},{"v":0.76},{"v":0.78},{"v":0.8},{"v":0.82},{"v":0.84},{"v":0.86},{"v":0.88},{"v":0.9},{"v":0.92},{"v":0.94},{"v":0.96},{"v":0.98},{"v":1}],
"f1":[{"a":-2.38,"b":2.5}],"f2":[{"a":0,"b":1}]
},
"hconcat":[
{"width":2276,"height":1174,"view":{"stroke":"#a8a8a8","strokeWidth":3},
"encoding":{"x":{"field":"c","type":"ordinal","axis":null,"scale":{"paddingInner":0,"paddingOuter":0.5,"domain":[0,1,2,3,4,5,6,7,8,9,10,11,12,13,14,15,16,17,18,19,20]}}},
"resolve":{"scale":{"color":"independent"}},
"layer":[
{"data":{"name":"flat"},"mark":{"type":"rect"},"encoding":{"y":{"field":"t","type":"quantitative","scale":{"domain":[0,20],"nice":false,"zero":false},"axis":{"values":[0,2.5,5,7.5,10,12.5,15,17.5,20],"format":".1f","labelFontSize":50,"labelColor":"#222","tickColor":"#666","tickSize":6,"domain":false,"grid":false,"labelPadding":6,"title":"Time [fs]","titleFontSize":76,"titleFontWeight":"normal","titleColor":"#222","titlePadding":20}},"y2":{"field":"u"},"color":{"field":"v","type":"quantitative","legend":null,"scale":{"domain":[-2.5,-2,-1.5,-1,-0.5,0,0.5,1,1.5,2,2.5],"range":["#40004b","#762a83","#9970ab","#c2a5cf","#e7d4e8","#f7f7f7","#d9f0d3","#a6dba0","#5aae61","#1b7837","#00441b"]}}}},
{"data":{"name":"flatp"},"mark":{"type":"rect"},"encoding":{"y":{"field":"t","type":"quantitative"},"y2":{"field":"u"},"color":{"field":"v","type":"quantitative","legend":null,"scale":{"domain":[0,0.15,0.27,0.385,0.5,0.625,0.75,0.875,1],"range":["#ffffe5","#fff7bc","#fee391","#fec44f","#fe9929","#ec7014","#cc4c02","#993404","#662506"]}}}},
{"data":{"name":"coh"},"mark":{"type":"rect","height":15,"clip":true,"yOffset":-4},"encoding":{"y":{"field":"t","type":"quantitative"},"color":{"field":"v","type":"quantitative","legend":null,"scale":{"domain":[-2.5,-2,-1.5,-1,-0.5,0,0.5,1,1.5,2,2.5],"range":["#40004b","#762a83","#9970ab","#c2a5cf","#e7d4e8","#f7f7f7","#d9f0d3","#a6dba0","#5aae61","#1b7837","#00441b"]}}}},
{"data":{"name":"coh"},"mark":{"type":"rect","height":15,"clip":true,"yOffset":4,"opacity":0.5},"encoding":{"y":{"field":"t","type":"quantitative"},"color":{"field":"v","type":"quantitative","legend":null,"scale":{"domain":[-2.5,-2,-1.5,-1,-0.5,0,0.5,1,1.5,2,2.5],"range":["#40004b","#762a83","#9970ab","#c2a5cf","#e7d4e8","#f7f7f7","#d9f0d3","#a6dba0","#5aae61","#1b7837","#00441b"]}}}},
{"data":{"name":"pop"},"mark":{"type":"rect","height":30,"clip":true,"yOffset":-10},"encoding":{"y":{"field":"t","type":"quantitative"},"color":{"field":"v","type":"quantitative","legend":null,"scale":{"domain":[0,0.15,0.27,0.385,0.5,0.625,0.75,0.875,1],"range":["#ffffe5","#fff7bc","#fee391","#fec44f","#fe9929","#ec7014","#cc4c02","#993404","#662506"]}}}},
{"data":{"name":"pop"},"mark":{"type":"rect","height":30,"clip":true,"opacity":0.5},"encoding":{"y":{"field":"t","type":"quantitative"},"color":{"field":"v","type":"quantitative","legend":null,"scale":{"domain":[0,0.15,0.27,0.385,0.5,0.625,0.75,0.875,1],"range":["#ffffe5","#fff7bc","#fee391","#fec44f","#fe9929","#ec7014","#cc4c02","#993404","#662506"]}}}},
{"data":{"name":"pop"},"mark":{"type":"rect","height":30,"clip":true,"yOffset":10,"opacity":0.333},"encoding":{"y":{"field":"t","type":"quantitative"},"color":{"field":"v","type":"quantitative","legend":null,"scale":{"domain":[0,0.15,0.27,0.385,0.5,0.625,0.75,0.875,1],"range":["#ffffe5","#fff7bc","#fee391","#fec44f","#fe9929","#ec7014","#cc4c02","#993404","#662506"]}}}},
{"data":{"name":"fine"},"mark":{"type":"rect","height":15,"clip":true,"yOffset":-4},"encoding":{"y":{"field":"t","type":"quantitative"},"color":{"field":"v","type":"quantitative","legend":null,"scale":{"domain":[0,0.15,0.27,0.385,0.5,0.625,0.75,0.875,1],"range":["#ffffe5","#fff7bc","#fee391","#fec44f","#fe9929","#ec7014","#cc4c02","#993404","#662506"]}}}},
{"data":{"name":"fine"},"mark":{"type":"rect","height":15,"clip":true,"yOffset":4,"opacity":0.5},"encoding":{"y":{"field":"t","type":"quantitative"},"color":{"field":"v","type":"quantitative","legend":null,"scale":{"domain":[0,0.15,0.27,0.385,0.5,0.625,0.75,0.875,1],"range":["#ffffe5","#fff7bc","#fee391","#fec44f","#fe9929","#ec7014","#cc4c02","#993404","#662506"]}}}},
{"data":{"name":"tick"},"transform":[{"filter":"datum.k==0"}],"mark":{"type":"rule","color":"#666","strokeWidth":2},"encoding":{"y":{"datum":0,"type":"quantitative"},"y2":{"datum":-0.1}}},
{"data":{"name":"tick"},"transform":[{"filter":"datum.k==1"}],"mark":{"type":"rule","color":"#666","strokeWidth":2},"encoding":{"y":{"datum":0,"type":"quantitative"},"y2":{"datum":-1.14}}},
{"data":{"name":"tick"},"transform":[{"filter":"datum.k==2"}],"mark":{"type":"rule","color":"#666","strokeWidth":2},"encoding":{"y":{"datum":0,"type":"quantitative"},"y2":{"datum":-2.13}}},
{"data":{"name":"lab"},"transform":[{"filter":"datum.k==0"}],"mark":{"type":"text","fontSize":55,"color":"#222"},"encoding":{"y":{"datum":-0.6,"type":"quantitative"},"text":{"field":"s"}}},
{"data":{"name":"lab"},"transform":[{"filter":"datum.k==1"}],"mark":{"type":"text","fontSize":55,"color":"#222"},"encoding":{"y":{"datum":-1.6,"type":"quantitative"},"text":{"field":"s"}}},
{"data":{"name":"lab"},"transform":[{"filter":"datum.k==2"}],"mark":{"type":"text","fontSize":55,"color":"#222"},"encoding":{"y":{"datum":-2.6,"type":"quantitative"},"text":{"field":"s"}}}
]},
{"width":119,"height":1174,
"layer":[
{"data":{"name":"bar1"},"mark":{"type":"rect","height":13,"clip":true},"encoding":{"y":{"field":"v","type":"quantitative","scale":{"domain":[-2.3875,2.504],"nice":false,"zero":false},"axis":{"orient":"right","values":[-2,-1,0,1,2],"format":"d","labelFontSize":42,"labelColor":"#222","tickColor":"#444","tickSize":6,"domain":false,"grid":false,"title":"2ℜ(𝜌ₘ,ₘ₊₁) × 10³","titleAngle":270,"titleBaseline":"top","titleFontSize":73,"titleFontWeight":"normal","titleColor":"#222","titlePadding":65}},"color":{"field":"v","type":"quantitative","legend":null,"scale":{"domain":[-2.5,-2,-1.5,-1,-0.5,0,0.5,1,1.5,2,2.5],"range":["#40004b","#762a83","#9970ab","#c2a5cf","#e7d4e8","#f7f7f7","#d9f0d3","#a6dba0","#5aae61","#1b7837","#00441b"]}}}},
{"data":{"name":"f1"},"mark":{"type":"rect","fillOpacity":0,"stroke":"#444","strokeWidth":2},"encoding":{"y":{"field":"a","type":"quantitative"},"y2":{"field":"b"}}}
]},
{"width":118,"height":1180,
"layer":[
{"data":{"name":"bar2"},"mark":{"type":"rect","height":24,"clip":true},"encoding":{"y":{"field":"v","type":"quantitative","scale":{"domain":[0,1.0051],"nice":false,"zero":false},"axis":{"orient":"right","values":[0,0.2,0.4,0.6,0.8,1],"format":".1f","labelFontSize":42,"labelColor":"#222","tickColor":"#444","tickSize":6,"domain":false,"grid":false,"title":"Population","titleAngle":270,"titleBaseline":"top","titleFontSize":71,"titleFontWeight":"normal","titleColor":"#222","titlePadding":75}},"color":{"field":"v","type":"quantitative","legend":null,"scale":{"domain":[0,0.125,0.25,0.375,0.5,0.625,0.75,0.875,1],"range":["#ffffe5","#fff7bc","#fee391","#fec44f","#fe9929","#ec7014","#cc4c02","#993404","#662506"]}}}},
{"data":{"name":"f2"},"mark":{"type":"rect","fillOpacity":0,"stroke":"#777","strokeWidth":3},"encoding":{"y":{"field":"a","type":"quantitative"},"y2":{"field":"b"}}}
]}
]}
